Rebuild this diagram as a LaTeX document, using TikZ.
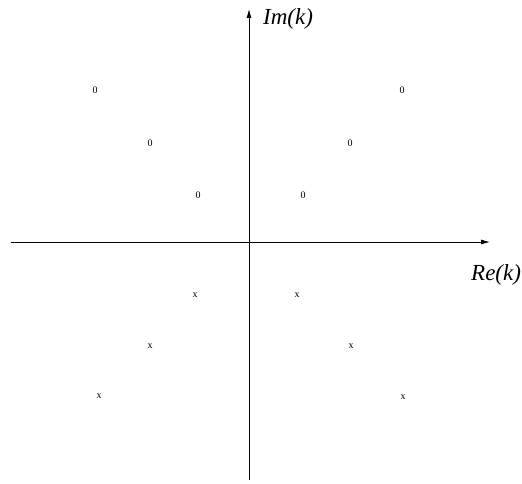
\documentclass[tikz,border=0pt]{standalone}
\usepackage{fontspec}
\setmainfont{Liberation Serif}
\usetikzlibrary{arrows.meta}

\begin{document}
\begin{tikzpicture}[
    x=1pt,y=-1pt,
    axis/.style={-{Latex[length=9pt,width=5pt]},line width=0.8pt},
    axlabel/.style={font=\fontsize{23}{25}\selectfont\itshape,inner sep=0pt,anchor=base west},
    zero/.style={font=\fontsize{10}{11}\selectfont,inner sep=0pt},
    pole/.style={font=\fontsize{10}{11}\selectfont,inner sep=0pt}]
\useasboundingbox (0,0) rectangle (522,484);
% axes
\coordinate (xl) at (11,242);
\coordinate (xr) at (490,242);
\coordinate (yb) at (249,480);
\coordinate (yt) at (249,9);
\draw[axis] (xl) -- (xr);
\draw[axis] (yb) -- (yt);
\node[axlabel] (im) at (263,25) {Im(k)};
\node[axlabel] (re) at (471,280) {Re(k)};
% zeros
\node[zero] (z1) at (95,90)   {0};
\node[zero] (z2) at (150,143) {0};
\node[zero] (z3) at (198,195) {0};
\node[zero] (z4) at (303,195) {0};
\node[zero] (z5) at (350,143) {0};
\node[zero] (z6) at (402,90)  {0};
% poles
\node[pole] (p1) at (195,295) {x};
\node[pole] (p2) at (150,346) {x};
\node[pole] (p3) at (99,396)  {x};
\node[pole] (p4) at (297,295) {x};
\node[pole] (p5) at (351,346) {x};
\node[pole] (p6) at (403,397) {x};
\end{tikzpicture}
\end{document}
